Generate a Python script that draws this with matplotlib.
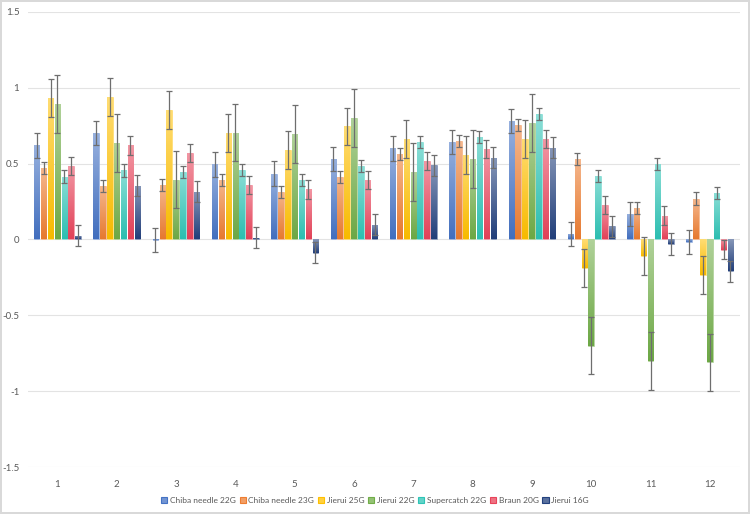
import numpy as np
import matplotlib
matplotlib.use('Agg')
import matplotlib.pyplot as plt
from matplotlib.colors import to_rgba

plt.rcParams['font.family'] = ['Lato', 'DejaVu Sans']

groups = ['1', '2', '3', '4', '5', '6', '7', '8', '9', '10', '11', '12']

series_names = ['Chiba needle 22G', 'Chiba needle 23G', 'Jierui 25G', 'Jierui 22G',
                'Supercatch 22G', 'Braun 20G', 'Jierui 16G']

chiba_22 = [0.62, 0.70, -0.005, 0.495, 0.435, 0.53, 0.60, 0.645, 0.78, 0.037, 0.17, -0.015]
chiba_23 = [0.47, 0.35, 0.36, 0.39, 0.315, 0.41, 0.565, 0.65, 0.755, 0.53, 0.21, 0.27]
jierui_25 = [0.935, 0.94, 0.855, 0.70, 0.59, 0.745, 0.66, 0.56, 0.66, -0.19, -0.11, -0.235]
jierui_22 = [0.895, 0.635, 0.395, 0.705, 0.695, 0.80, 0.445, 0.53, 0.77, -0.70, -0.80, -0.81]
supercatch_22 = [0.415, 0.455, 0.445, 0.46, 0.395, 0.485, 0.645, 0.675, 0.825, 0.42, 0.50, 0.307]
braun_20 = [0.485, 0.62, 0.57, 0.36, 0.33, 0.39, 0.515, 0.595, 0.66, 0.228, 0.158, -0.066]
jierui_16 = [0.025, 0.355, 0.315, 0.012, -0.088, 0.097, 0.49, 0.54, 0.605, 0.088, -0.03, -0.21]

# error bar half-widths, one per series
errors = [0.08, 0.04, 0.125, 0.19, 0.04, 0.06, 0.07]

colors = ['#4472C4', '#ED7D31', '#FFC000', '#70AD47', '#2EC4B6', '#E8435A', '#23417E']


def mix(c, other, t):
    a = np.array(to_rgba(c))
    b = np.array(to_rgba(other))
    return a * (1 - t) + b * t


def gradient_bar(ax, patch, color):
    x0, y0 = patch.get_x(), patch.get_y()
    w, h = patch.get_width(), patch.get_height()
    y_low, y_high = min(y0, y0 + h), max(y0, y0 + h)
    top = mix(color, 'white', 0.45)
    bottom = mix(color, 'black', 0.03)
    n = 64
    t = np.linspace(0, 1, n)[:, None]
    grad = bottom * (1 - t) + top * t
    img = ax.imshow(grad[:, None, :], extent=(x0, x0 + w, y_low, y_high),
                    origin='lower', aspect='auto', zorder=2, interpolation='bilinear')
    img.set_clip_path(patch)


def main() -> None:
    data = [chiba_22, chiba_23, jierui_25, jierui_22, supercatch_22, braun_20, jierui_16]

    fig = plt.figure(figsize=(7.5, 5.14), dpi=100)
    fig.patch.set_edgecolor('#D9D9D9')
    fig.patch.set_linewidth(1.5)
    ax = fig.add_axes([0.037, 0.0914, 0.949, 0.8853])

    x = np.arange(1, len(groups) + 1)
    slot = 0.116
    width = 0.092
    n = len(data)
    handles = []
    for i, (vals, err, col) in enumerate(zip(data, errors, colors)):
        pos = x + (i - (n - 1) / 2) * slot
        bars = ax.bar(pos, vals, width, color=col, edgecolor=mix(col, 'white', 0.5),
                      linewidth=0.5, zorder=2, label=series_names[i])
        for b in bars:
            gradient_bar(ax, b, col)
        ax.errorbar(pos, vals, yerr=err, fmt='none', ecolor='#6E6E6E',
                    elinewidth=0.9, capsize=2.2, capthick=0.9, zorder=4)
        handles.append(plt.Rectangle((0, 0), 1, 1, facecolor=mix(col, 'white', 0.25),
                                     edgecolor=col, linewidth=0.8))

    ax.set_xlim(0.5, 12.5)
    ax.set_ylim(-1.5, 1.5)
    ax.set_yticks([-1.5, -1, -0.5, 0, 0.5, 1, 1.5])
    ax.set_yticklabels(['-1.5', '-1', '-0.5', '0', '0.5', '1', '1.5'])
    ax.set_xticks(x)
    ax.set_xticklabels(groups)
    ax.tick_params(axis='both', length=0, labelsize=7, labelcolor='#595959')
    ax.tick_params(axis='y', pad=6)
    ax.tick_params(axis='x', pad=9)
    ax.grid(axis='y', color='#E3E3E3', linewidth=0.8, zorder=0)
    ax.set_axisbelow(True)
    for s in ax.spines.values():
        s.set_visible(False)

    fig.legend(handles, series_names, loc='lower center', bbox_to_anchor=(0.5, 0.005),
               ncol=7, frameon=False, fontsize=6.0, handlelength=0.75, handleheight=0.75,
               handletextpad=0.3, columnspacing=0.45, labelcolor='#595959')

    fig.savefig('out.png', dpi=100)


if __name__ == '__main__':
    main()
